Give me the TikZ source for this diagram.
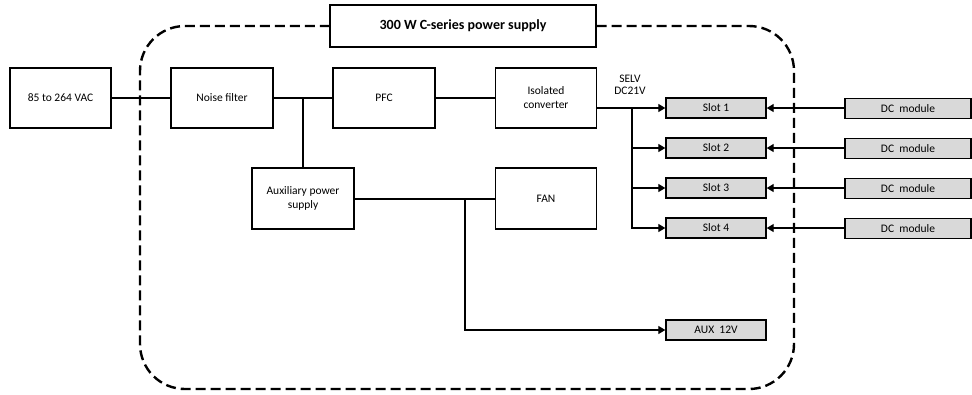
\documentclass[tikz,border=0pt]{standalone}
\usepackage{fontspec}
\setmainfont{Carlito}
\usetikzlibrary{arrows.meta,backgrounds}
\definecolor{slotgray}{HTML}{D9D9D9}
\tikzset{
  blk/.style={draw, line width=1.4pt, minimum width=#1, minimum height=60pt, inner sep=1pt, align=center, font=\fontsize{11.5}{14}\selectfont},
  blk/.default=102pt,
  slotbox/.style={draw, line width=1.4pt, fill=slotgray, minimum width=#1, minimum height=20pt, inner sep=0pt, font=\fontsize{11.5}{13}\selectfont},
  slotbox/.default=100pt,
  wire/.style={line width=1.3pt},
  feed/.style={line width=1.3pt, -{Triangle[length=7pt,width=8pt]}},
  border/.style={line width=2.4pt, dash pattern=on 10pt off 5pt, rounded corners=45pt}
}
\begin{document}
\begin{tikzpicture}[x=1pt,y=-1pt]
\useasboundingbox (0,0) rectangle (972,394);
% boxes of the supply
\node[blk=101pt] (vac) at (60.5,98) {85 to 264 VAC};
\node[blk] (noise) at (222,98) {Noise filter};
\node[blk] (pfc) at (384,98) {PFC};
\node[blk=101pt] (iso) at (546,98) {Isolated\\converter};
\node[blk, minimum height=61pt] (aux) at (303,198.5) {Auxiliary power\\supply};
\node[blk=101pt, minimum height=61pt] (fan) at (546,198.5) {FAN};
% slots and modules
\foreach \i/\y in {1/108,2/148,3/188,4/228}{
  \node[slotbox] (slot\i) at (716,\y) {Slot \i};
  \node[slotbox=126pt] (dc\i) at (908,\y+0.5) {DC~~module};
  \draw[feed] (dc\i.west |- slot\i.east) -- (slot\i.east);
}
\node[slotbox] (aux12) at (716,330) {AUX~~12V};
\node[align=center, inner sep=0pt, font=\fontsize{11.5}{12}\selectfont] (selv) at (630,85) {SELV\\DC21V};
% enclosure
\node[draw, line width=1.2pt, fill=white, minimum width=266pt, minimum height=42pt,
      font=\bfseries\fontsize{14}{16}\selectfont] (title) at (463,26) {300 W C-series power supply};
\begin{scope}[on background layer]
\draw[border] (title.east) -- (794,26) -- (794,389) -- (140,389) -- (140,26) -- (title.west);
\end{scope}
% connections
\coordinate (j1) at (aux.north |- noise.east);
\coordinate (br) at (632,108);
\coordinate (j2) at (465,199);
\draw[wire] (vac.east) -- (noise.west);
\draw[wire] (noise.east) -- (pfc.west);
\draw[wire] (j1) -- (aux.north);
\draw[wire] (pfc.east) -- (iso.west);
\draw[feed] (iso.east |- slot1.west) -- (slot1.west);
\draw[feed] (br) |- (slot4.west);
\draw[feed] (br |- slot2.west) -- (slot2.west);
\draw[feed] (br |- slot3.west) -- (slot3.west);
\draw[wire] (aux.east |- j2) -- (fan.west |- j2);
\draw[feed] (j2) |- (aux12.west);
\end{tikzpicture}
\end{document}
